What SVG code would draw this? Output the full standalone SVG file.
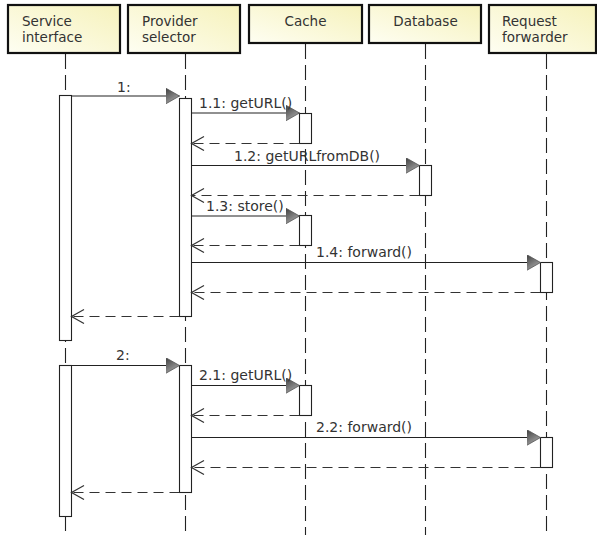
<svg xmlns="http://www.w3.org/2000/svg" width="597" height="535" viewBox="0 0 597 535">
<defs>
<linearGradient id="hdr" x1="0" y1="1" x2="1" y2="0">
<stop offset="0" stop-color="#fefef2"/>
<stop offset="1" stop-color="#f6f2bc"/>
</linearGradient>
<linearGradient id="tri" x1="0" y1="0" x2="0.6" y2="1">
<stop offset="0" stop-color="#3e3e3e"/>
<stop offset="1" stop-color="#a8a8a8"/>
</linearGradient>
<marker id="sync" markerUnits="userSpaceOnUse" markerWidth="16" markerHeight="18" refX="14" refY="8" orient="auto" viewBox="0 0 16 18">
<path d="M0,0 L14,8 L0,16 Z" fill="url(#tri)" stroke="#555" stroke-width="0.8"/>
</marker>
<marker id="open" markerUnits="userSpaceOnUse" markerWidth="16" markerHeight="16" refX="13" refY="7.5" orient="auto" viewBox="0 0 16 16">
<path d="M0.5,0.5 L13,7.5 L0.5,14.5" fill="none" stroke="#333" stroke-width="1.2"/>
</marker>
</defs>
<style>
.head{fill:url(#hdr);stroke:#111;stroke-width:2.2}
.ht{font-family:"DejaVu Sans",sans-serif;font-size:13.5px;fill:#333}
.life{stroke:#222;stroke-width:1.1;stroke-dasharray:15 6;fill:none}
.act{fill:#fff;stroke:#222;stroke-width:1.1}
.msg{stroke:#222;stroke-width:1.1;fill:none;marker-end:url(#sync)}
.ret{stroke:#333;stroke-width:1.1;fill:none;stroke-dasharray:10 6;marker-end:url(#open)}
.lbl{font-family:"DejaVu Sans",sans-serif;font-size:14px;fill:#333}
</style>
<rect width="597" height="535" fill="#fff"/>
<g id="lifelines">
<line class="life" x1="65.5" y1="54" x2="65.5" y2="535"/>
<line class="life" x1="185.5" y1="54" x2="185.5" y2="535"/>
<line class="life" x1="305.5" y1="44" x2="305.5" y2="535"/>
<line class="life" x1="425.5" y1="44" x2="425.5" y2="535"/>
<line class="life" x1="546.5" y1="54" x2="546.5" y2="535"/>
</g>
<g id="service-interface">
<rect class="head" x="8" y="5" width="112" height="48"/>
<text class="ht" x="22" y="26">Service</text>
<text class="ht" x="22" y="42">interface</text>
<rect class="act" x="59.5" y="95.5" width="12" height="245"/>
<rect class="act" x="59.5" y="365.5" width="12" height="151"/>
</g>
<g id="provider-selector">
<rect class="head" x="128" y="5" width="112" height="48"/>
<text class="ht" x="142" y="26">Provider</text>
<text class="ht" x="142" y="42">selector</text>
<rect class="act" x="179.5" y="98.5" width="12" height="218"/>
<rect class="act" x="179.5" y="365.5" width="12" height="127"/>
</g>
<g id="cache">
<rect class="head" x="249" y="5" width="113" height="38"/>
<text class="ht" x="305.5" y="26" text-anchor="middle">Cache</text>
<rect class="act" x="299.5" y="113.5" width="12" height="30"/>
<rect class="act" x="299.5" y="215.5" width="12" height="30"/>
<rect class="act" x="299.5" y="385.5" width="12" height="30"/>
</g>
<g id="database">
<rect class="head" x="369" y="5" width="112" height="38"/>
<text class="ht" x="425.5" y="26" text-anchor="middle">Database</text>
<rect class="act" x="419.5" y="165.5" width="12" height="30"/>
</g>
<g id="request-forwarder">
<rect class="head" x="489" y="5" width="107" height="48"/>
<text class="ht" x="502" y="26">Request</text>
<text class="ht" x="502" y="42">forwarder</text>
<rect class="act" x="540.5" y="262.5" width="12" height="30"/>
<rect class="act" x="540.5" y="437.5" width="12" height="30"/>
</g>
<g id="connectors">
<line class="msg" x1="71.5" y1="96" x2="179.5" y2="96"/>
<line class="msg" x1="191.5" y1="113" x2="299.5" y2="113"/>
<line class="ret" x1="299.5" y1="143.5" x2="191.5" y2="143.5"/>
<line class="msg" x1="191.5" y1="165.5" x2="419.5" y2="165.5"/>
<line class="ret" x1="419.5" y1="195.5" x2="191.5" y2="195.5"/>
<line class="msg" x1="191.5" y1="216" x2="299.5" y2="216"/>
<line class="ret" x1="299.5" y1="245.5" x2="191.5" y2="245.5"/>
<line class="msg" x1="191.5" y1="262.5" x2="540.5" y2="262.5"/>
<line class="ret" x1="540.5" y1="292.5" x2="191.5" y2="292.5"/>
<line class="ret" x1="179.5" y1="316.5" x2="71.5" y2="316.5"/>
<line class="msg" x1="71.5" y1="365.5" x2="179.5" y2="365.5"/>
<line class="msg" x1="191.5" y1="385.5" x2="299.5" y2="385.5"/>
<line class="ret" x1="299.5" y1="415.5" x2="191.5" y2="415.5"/>
<line class="msg" x1="191.5" y1="437.5" x2="540.5" y2="437.5"/>
<line class="ret" x1="540.5" y1="467.5" x2="191.5" y2="467.5"/>
<line class="ret" x1="179.5" y1="492.5" x2="71.5" y2="492.5"/>
</g>
<g id="labels">
<text class="lbl" x="117" y="92">1:</text>
<text class="lbl" x="199" y="108">1.1: getURL()</text>
<text class="lbl" x="234" y="161">1.2: getURLfromDB()</text>
<text class="lbl" x="206" y="211">1.3: store()</text>
<text class="lbl" x="316" y="257">1.4: forward()</text>
<text class="lbl" x="116" y="360">2:</text>
<text class="lbl" x="199" y="380">2.1: getURL()</text>
<text class="lbl" x="316" y="432">2.2: forward()</text>
</g>
</svg>
